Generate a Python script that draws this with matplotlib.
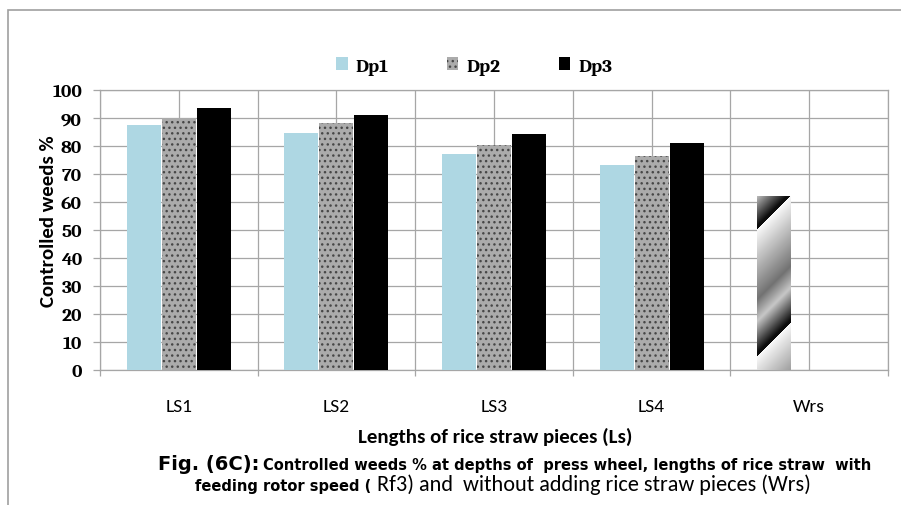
import matplotlib
matplotlib.use("Agg")
import matplotlib.pyplot as plt
import numpy as np
from matplotlib.patches import Rectangle

# data
categories = ["LS1", "LS2", "LS3", "LS4", "Wrs"]
dp1 = [87.5, 84.6, 77.1, 73.2]
dp2 = [90.0, 88.2, 80.5, 76.3]
dp3 = [93.6, 91.0, 84.2, 81.2]
wrs = [62.0]
series_names = ["Dp1", "Dp2", "Dp3"]
y_ticks = list(range(0, 101, 10))

W, H = 901, 506
fig = plt.figure(figsize=(W / 100, H / 100), dpi=100)
ax = fig.add_axes([100 / W, 1 - 371 / H, 788 / W, 280 / H])

sans = ["Carlito", "DejaVu Sans"]
serif = ["Caladea", "DejaVu Serif"]
grid_c = "#a6a6a6"

x = np.arange(len(categories))
bw = 0.215
off = 0.222
ls = x[:len(dp1)]

b1 = ax.bar(ls - off, dp1, bw, color="#aed7e3", linewidth=0, zorder=3, label=series_names[0])
b2 = ax.bar(ls, dp2, bw, facecolor="#ababab", edgecolor="#474747", hatch="...",
            linewidth=0, zorder=3, label=series_names[1])
b3 = ax.bar(ls + off, dp3, bw, color="black", linewidth=0, zorder=3, label=series_names[2])
bw_bar = ax.bar(x[len(dp1):] - off, wrs, bw, facecolor="none", linewidth=0, zorder=3)

# diagonal metallic gradient for the Wrs bar
rect = bw_bar[0]
hp, wp = 174, 34
yy, xx = np.mgrid[0:hp, 0:wp]
t = ((yy + xx - 33) % 127) / 127.0
shade = np.interp(t, [0, 0.08, 0.55, 0.72, 0.97, 1.0], [0.98, 0.9, 0.45, 0.78, 0.05, 0.05])
img = ax.imshow(shade, cmap="gray", vmin=0, vmax=1, origin="upper", aspect="auto",
                extent=(rect.get_x(), rect.get_x() + rect.get_width(), 0, rect.get_height()),
                zorder=3, interpolation="bilinear")
img.set_clip_path(rect)

ax.set_xlim(-0.5, len(categories) - 0.5)
ax.set_ylim(0, 100)
ax.set_yticks(y_ticks)
ax.set_xticks(x)
ax.set_xticks(np.arange(-0.5, len(categories), 1), minor=True)
ax.set_xticklabels(categories, family=sans, fontsize=14)
ax.set_yticklabels([str(v) for v in y_ticks], family=serif, fontsize=14, fontweight="bold")
ax.tick_params(axis="x", which="major", length=0, pad=20)
ax.tick_params(axis="x", which="minor", length=4, color=grid_c, width=0.9)
ax.tick_params(axis="y", length=5, color=grid_c, width=0.9, pad=8)
ax.grid(True, which="both", color=grid_c, linewidth=0.9, zorder=0)
ax.set_axisbelow(True)
for s in ax.spines.values():
    s.set_color(grid_c)
    s.set_linewidth(0.9)

fig.text(49 / W, 1 - 221 / H, "Controlled weeds %", rotation=90, ha="center", va="center",
         family=sans, fontsize=15, fontweight="bold")
fig.text(495 / W, 1 - 437 / H, "Lengths of rice straw pieces (Ls)", ha="center", va="center",
         family=sans, fontsize=15, fontweight="bold")

fig.legend(handles=[b1, b2, b3], loc="center", bbox_to_anchor=(474 / W, 1 - 67 / H),
           ncol=3, frameon=False, handlelength=0.6, handleheight=0.6, handletextpad=0.4,
           columnspacing=3.0, prop={"family": serif, "weight": "bold", "size": 14})

# chart border
fig.patches.append(Rectangle((8 / W, -0.1), 1.2, 1.1 - 11 / H, transform=fig.transFigure,
                             fill=False, edgecolor="#a0a0a0", linewidth=1.2))

# caption, pieces set side by side
r = fig.canvas.get_renderer()


def piece(x0, y0, s, width_px=None, **kw):
    t = fig.text(x0 / W, 1 - y0 / H, s, va="baseline", ha="left", **kw)
    if width_px:
        w = t.get_window_extent(renderer=r).width
        t.set_fontsize(t.get_fontsize() * width_px / w)
    return t


fig_part = piece(158, 470, "Fig. (6C):", family=["DejaVu Sans"], fontweight="bold", fontsize=14)
xe = fig_part.get_window_extent(renderer=r).x1
line1 = piece(xe + 4, 470, "Controlled weeds % at depths of  press wheel, lengths of rice straw  with",
              width_px=867 - xe - 4, family=["DejaVu Sans"], fontweight="bold", fontsize=9)
small = line1.get_fontsize()

# second line: same small bold text, then the larger plain part; centred as a whole
a = piece(0, 491, "feeding rotor speed (", family=["DejaVu Sans"], fontweight="bold", fontsize=small)
b = piece(0, 491, "Rf3) and  without adding rice straw pieces (Wrs)", family=sans, fontsize=16)
wa = a.get_window_extent(renderer=r).width
wb = b.get_window_extent(renderer=r).width
x_start = 503 - (wa + 5 + wb) / 2
a.set_x(x_start / W)
b.set_x((x_start + wa + 5) / W)

fig.savefig("out.png")
